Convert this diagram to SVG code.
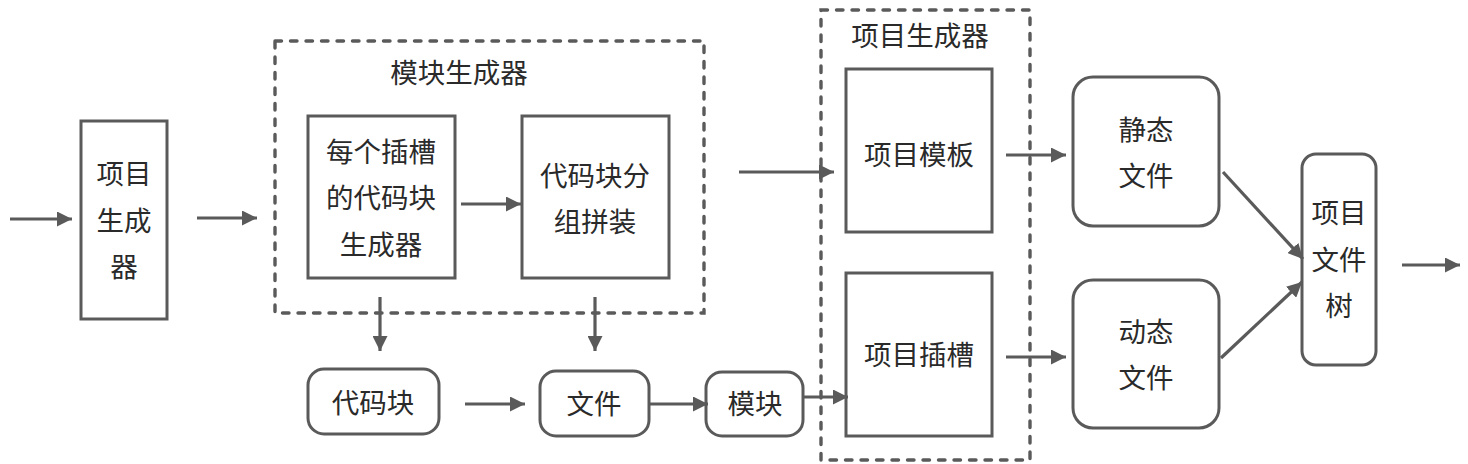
<svg xmlns="http://www.w3.org/2000/svg" width="1468" height="464" viewBox="0 0 1468 464">
<defs>
<style>
.box{fill:#fff;stroke:#5a5a5a;stroke-width:3}
.grp{fill:none;stroke:#5a5a5a;stroke-width:3.4;stroke-dasharray:6.5 9;stroke-linecap:round}
.t{font-family:"Noto Sans CJK SC","Noto Sans",sans-serif;font-size:27.5px;fill:#2a2a2a;text-anchor:middle}
.c{fill:none;stroke:#5a5a5a;stroke-width:3.2;marker-end:url(#ah)}
</style>
<marker id="ah" viewBox="0 0 15 15" refX="15" refY="7.5" markerWidth="15" markerHeight="15" markerUnits="userSpaceOnUse" orient="auto">
<path d="M0,0 L15,7.5 L0,15 z" fill="#5a5a5a"/>
</marker>
</defs>
<rect width="1468" height="464" fill="#fff"/>
<g id="module-generator-group">
<rect class="grp" x="275" y="41" width="429" height="272"/>
<text class="t" x="459" y="83">模块生成器</text>
</g>
<g id="project-generator-group">
<rect class="grp" x="821" y="10" width="209" height="450"/>
<text class="t" x="920" y="46">项目生成器</text>
</g>
<g id="project-generator">
<rect class="box" x="81" y="121" width="86" height="198"/>
<text class="t" x="124" y="184">项目</text>
<text class="t" x="124" y="231">生成</text>
<text class="t" x="124" y="277">器</text>
</g>
<g id="slot-codeblock-generator">
<rect class="box" x="308" y="116" width="147" height="162"/>
<text class="t" x="381" y="162">每个插槽</text>
<text class="t" x="381" y="208">的代码块</text>
<text class="t" x="381" y="255">生成器</text>
</g>
<g id="codeblock-assembly">
<rect class="box" x="522" y="116" width="147" height="162"/>
<text class="t" x="595" y="186">代码块分</text>
<text class="t" x="595" y="232">组拼装</text>
</g>
<g id="codeblock">
<rect class="box" x="308" y="369" width="131" height="65" rx="16"/>
<text class="t" x="373" y="413">代码块</text>
</g>
<g id="file">
<rect class="box" x="540" y="371" width="109" height="65" rx="16"/>
<text class="t" x="594" y="414">文件</text>
</g>
<g id="module">
<rect class="box" x="706" y="372" width="97" height="64" rx="16"/>
<text class="t" x="755" y="414">模块</text>
</g>
<g id="project-template">
<rect class="box" x="846" y="69" width="146" height="163"/>
<text class="t" x="919" y="165">项目模板</text>
</g>
<g id="project-slot">
<rect class="box" x="846" y="273" width="146" height="163"/>
<text class="t" x="919" y="365">项目插槽</text>
</g>
<g id="static-files">
<rect class="box" x="1073" y="77" width="146" height="149" rx="20"/>
<text class="t" x="1146" y="140">静态</text>
<text class="t" x="1146" y="186">文件</text>
</g>
<g id="dynamic-files">
<rect class="box" x="1073" y="280" width="146" height="148" rx="20"/>
<text class="t" x="1146" y="342">动态</text>
<text class="t" x="1146" y="388">文件</text>
</g>
<g id="project-file-tree">
<rect class="box" x="1302" y="154" width="74" height="211" rx="14"/>
<text class="t" x="1339" y="223">项目</text>
<text class="t" x="1339" y="270">文件</text>
<text class="t" x="1339" y="316">树</text>
</g>
<g id="connectors">
<line class="c" x1="10" y1="219" x2="72" y2="219"/>
<line class="c" x1="197" y1="218" x2="257" y2="218"/>
<line class="c" x1="461" y1="204" x2="521" y2="204"/>
<line class="c" x1="380" y1="297" x2="380" y2="351"/>
<line class="c" x1="595" y1="297" x2="595" y2="351"/>
<line class="c" x1="465" y1="404" x2="525" y2="404"/>
<line class="c" x1="649" y1="404" x2="708" y2="404"/>
<line class="c" x1="803" y1="397" x2="848" y2="397"/>
<line class="c" x1="739" y1="172" x2="834" y2="172"/>
<line class="c" x1="1006" y1="155" x2="1066" y2="155"/>
<line class="c" x1="1006" y1="357" x2="1066" y2="357"/>
<line class="c" x1="1223" y1="172" x2="1303" y2="259"/>
<line class="c" x1="1221" y1="358" x2="1302" y2="282"/>
<line class="c" x1="1402" y1="265" x2="1460" y2="265"/>
</g>
</svg>
